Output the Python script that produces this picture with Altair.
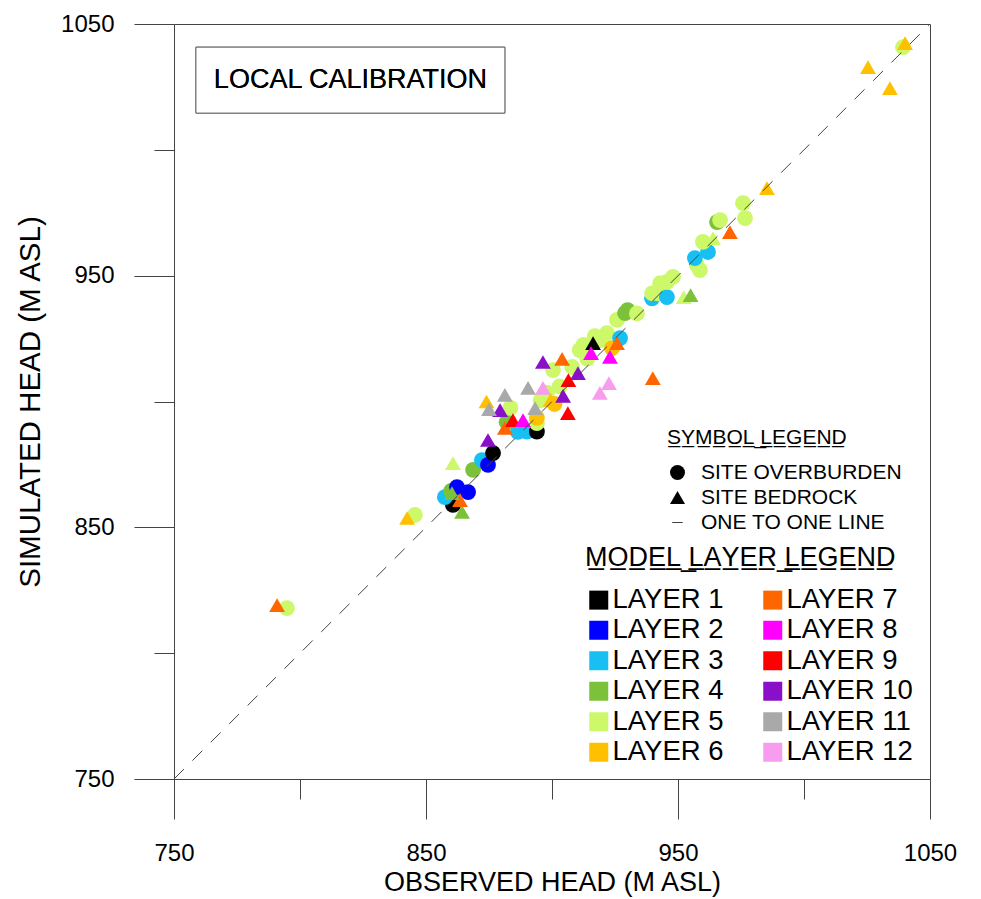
import altair as alt
import pandas as pd

# ---- calibration targets: observed vs simulated head (m ASL) ----
# site overburden wells (circles)
ob_observed = [794.8, 845.6, 860.7, 857.5, 860.0, 862.3, 866.7, 868.7, 872.2, 874.6,
               876.6, 882.0, 883.5, 886.5, 890.0, 894.0, 894.0, 894.0, 895.5, 898.0,
               901.0, 900.4, 903.0, 908.0, 911.0, 912.5, 914.0, 917.0, 919.0, 921.8,
               923.8, 927.0, 925.8, 929.0, 930.0, 933.7, 939.7, 939.7, 942.0, 945.6,
               942.9, 945.6, 948.0, 958.7, 957.5, 956.7, 961.9, 959.9, 965.5, 966.7,
               975.8, 976.6, 1039.3]
ob_simulated = [817.9, 854.9, 858.9, 862.0, 864.5, 866.0, 864.0, 872.8, 876.7, 874.8,
                879.5, 891.8, 897.5, 887.9, 888.0, 888.0, 891.4, 893.5, 900.5, 903.5,
                899.0, 912.5, 906.0, 913.7, 920.4, 922.5, 917.0, 926.0, 924.4, 927.2,
                921.2, 925.2, 932.4, 935.1, 936.3, 935.0, 941.0, 943.0, 943.0, 941.5,
                947.0, 947.5, 949.5, 952.2, 954.2, 957.0, 959.4, 963.4, 971.3, 972.1,
                978.8, 972.9, 1040.8]
ob_layer = [5, 5, 1, 3, 4, 2, 2, 4, 3, 2,
            1, 4, 5, 3, 3, 1, 5, 6, 5, 5,
            6, 5, 5, 5, 5, 5, 5, 5, 5, 5,
            6, 3, 5, 4, 4, 5, 3, 5, 5, 3,
            5, 5, 5, 5, 5, 3, 3, 5, 4, 5,
            5, 5, 5]

# site bedrock wells (triangles)
br_observed = [790.9, 842.5, 864.3, 863.5, 860.3, 860.7, 874.6, 881.3, 884.5, 888.5,
               879.4, 874.0, 875.0, 881.3, 890.5, 893.3, 896.4, 899.5, 904.4, 906.3,
               906.5, 910.3, 896.4, 904.0, 916.3, 915.5, 923.0, 919.0, 922.6, 925.8,
               940.0, 952.3, 955.0, 963.9, 970.6, 985.3, 1025.4, 1034.1, 1040.1]
br_simulated = [819.1, 853.7, 856.1, 860.8, 863.6, 875.5, 884.7, 889.5, 892.6, 892.6,
                896.6, 900.0, 897.0, 902.6, 905.4, 897.4, 905.4, 900.6, 902.2, 895.4,
                908.5, 911.3, 915.7, 916.9, 923.2, 919.2, 917.7, 903.4, 907.3, 923.2,
                909.3, 941.5, 942.3, 964.9, 967.3, 984.8, 1032.9, 1024.5, 1042.4]
br_layer = [7, 6, 4, 7, 4, 5, 10, 7, 9, 8,
            10, 6, 11, 11, 11, 11, 12, 6, 10, 9,
            9, 10, 10, 7, 1, 8, 8, 12, 12, 7,
            7, 5, 4, 5, 7, 6, 6, 6, 6]

layer_colors = ["#000000", "#0000FF", "#17BFF2", "#7CC13A", "#CCF86A", "#FFC000",
                "#FF6600", "#FF00FF", "#FF0000", "#8A0FC8", "#A9A9A9", "#F79CEF"]
layer_names = [f"LAYER {i}" for i in range(1, 13)]

symbol_names = ["SITE OVERBURDEN", "SITE BEDROCK", "ONE TO ONE LINE"]
symbol_shapes = ["circle", "triangle-up", "M-0.7,-0.05H0.7V0.05H-0.7Z"]

axis_limits = [750, 1050]
tick_values = [750, 800, 850, 900, 950, 1000, 1050]

# ---- tables ----
wells = pd.DataFrame({
    "observed": ob_observed + br_observed,
    "simulated": ob_simulated + br_simulated,
    "layer": [layer_names[n - 1] for n in ob_layer + br_layer],
    "unit": [symbol_names[0]] * len(ob_observed) + [symbol_names[1]] * len(br_observed),
})
one_to_one = pd.DataFrame({"observed": axis_limits, "simulated": axis_limits})


def underline(s):
    # combining low line under every character, spaces kept unbreakable
    return "".join((c if c != " " else "\u00a0") + "\u0332" for c in s)


FONT = "Liberation Sans"
major = "datum.value % 100 == 50"


def head_axis(title, label_pad, title_pad, title_size):
    return alt.Axis(
        title=title, values=tick_values, format="d",
        labelExpr=f"{major} ? datum.label : ''",
        tickSize={"condition": {"test": major, "value": 40}, "value": 20},
        grid=False, domainColor="#444", tickColor="#444", tickWidth=1,
        labelFont=FONT, labelFontSize=24, labelColor="black",
        titleFont=FONT, titleFontSize=title_size, titleFontWeight="normal", titleColor="black",
        labelFlush=False, labelOverlap=False,
        labelPadding=label_pad, titlePadding=title_pad,
    )


x_enc = alt.X("observed:Q", scale=alt.Scale(domain=axis_limits, nice=False, zero=False),
              axis=head_axis("OBSERVED HEAD (M ASL)", 22, 4, 27))
y_enc = alt.Y("simulated:Q", scale=alt.Scale(domain=axis_limits, nice=False, zero=False),
              axis=head_axis("SIMULATED HEAD (M ASL)", 20, 15, 29.5))

points = alt.Chart(wells).mark_point(
    filled=True, opacity=1, size=250, strokeWidth=0, color="black"
).encode(
    x=x_enc,
    y=y_enc,
    color=alt.Color(
        "layer:N",
        scale=alt.Scale(domain=layer_names, range=layer_colors),
        legend=alt.Legend(
            title=underline("MODEL LAYER LEGEND"), orient="none", legendX=411, legendY=521,
            columns=2, columnPadding=35, rowPadding=1.5, padding=0,
            symbolType="square", symbolSize=361, symbolStrokeWidth=0, symbolOpacity=1,
            labelFont=FONT, labelFontSize=27.5, labelColor="black", labelOffset=0,
            labelLimit=400,
            titleFont=FONT, titleFontSize=27, titleFontWeight="normal", titleColor="black",
            titlePadding=14, titleLimit=400,
        ),
    ),
    shape=alt.Shape(
        "unit:N",
        scale=alt.Scale(domain=symbol_names, range=symbol_shapes),
        legend=alt.Legend(
            title=underline("SYMBOL LEGEND"), orient="none", legendX=493, legendY=403,
            rowPadding=3, padding=0, symbolSize=225, symbolStrokeWidth=0,
            symbolFillColor="black",
            labelFont=FONT, labelFontSize=21, labelColor="black", labelOffset=13,
            labelLimit=400,
            titleFont=FONT, titleFontSize=21, titleFontWeight="normal", titleColor="black",
            titlePadding=14, titleLimit=400,
        ),
    ),
)

line = alt.Chart(one_to_one).mark_line(
    color="#444", strokeWidth=1, strokeDash=[14, 12]
).encode(x="observed:Q", y="simulated:Q")

# title box in the upper-left corner
box = alt.Chart(one_to_one).mark_rect(
    fill="white", stroke="#666", strokeWidth=1
).encode(
    x=alt.datum(758.7), x2=alt.datum(881.3),
    y=alt.datum(1040.8), y2=alt.datum(1014.6),
)
box_label = alt.Chart(one_to_one).mark_text(
    font=FONT, fontSize=27, color="black", align="center", baseline="middle"
).encode(x=alt.datum(820.0), y=alt.datum(1027.7), text=alt.value("LOCAL CALIBRATION"))

chart = alt.layer(box, box_label, points, line).properties(
    width=756, height=755,
    padding={"left": 174, "top": 24, "right": 51, "bottom": 120},
    autosize=alt.AutoSizeParams(type="none"),
    background="white",
).configure_view(stroke="#444", strokeWidth=1)

chart.save("out.html", embed_options={"renderer": "svg", "actions": False})
